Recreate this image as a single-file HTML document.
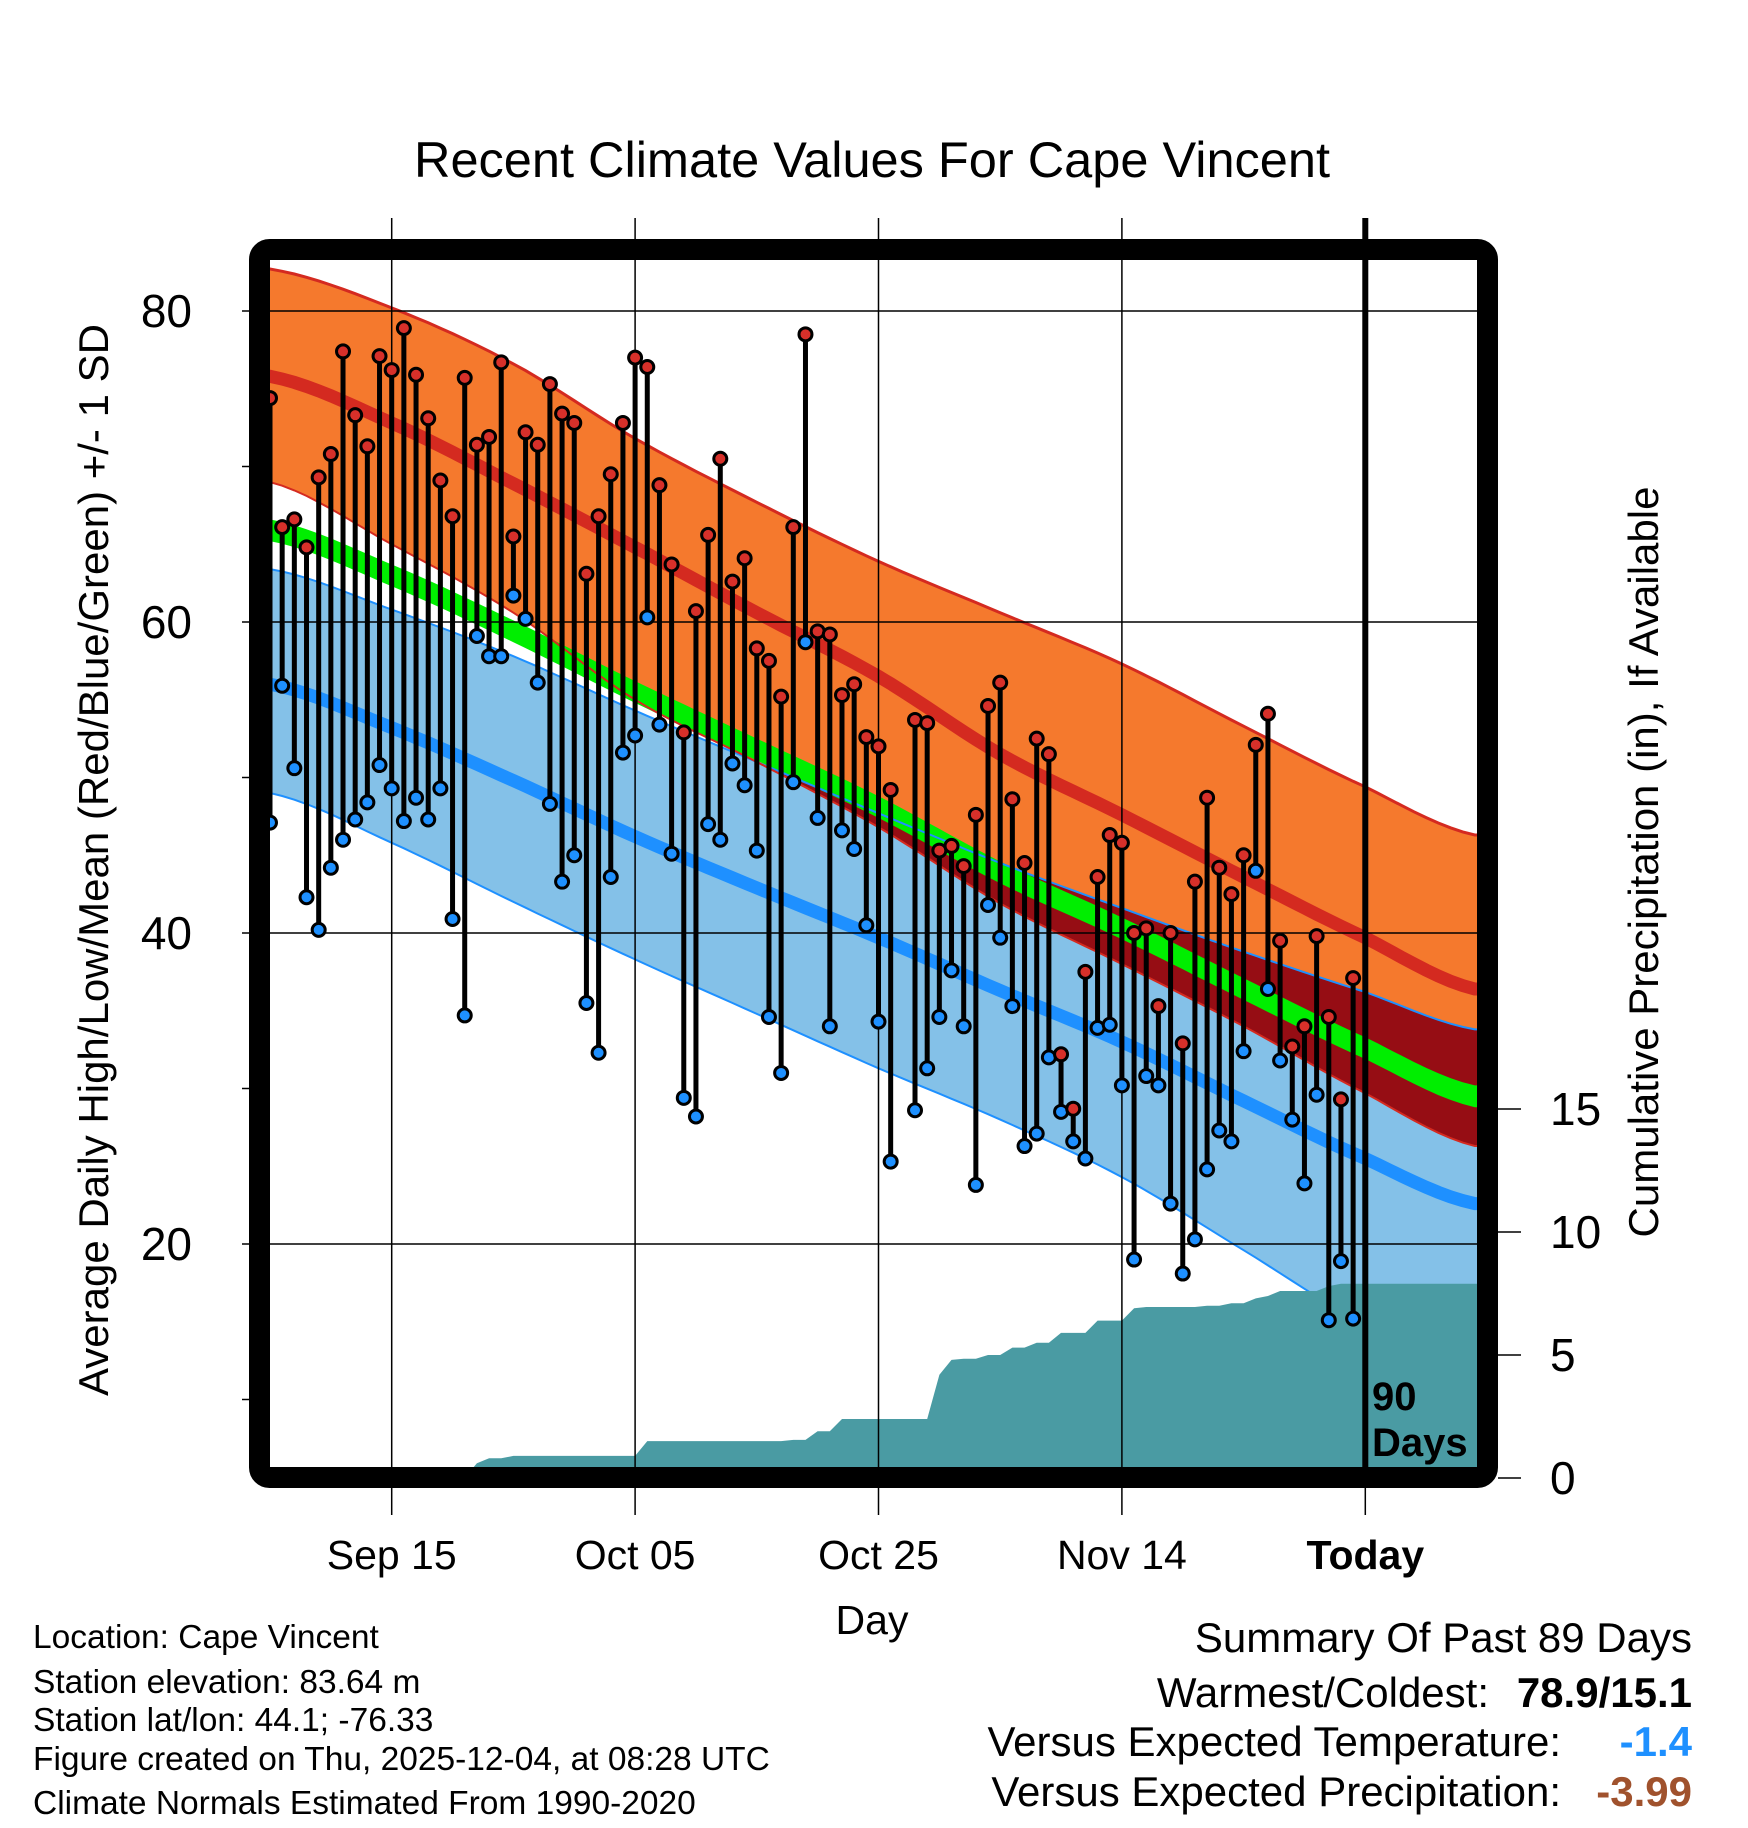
<!DOCTYPE html>
<html><head><meta charset="utf-8"><style>
html,body{margin:0;padding:0;background:#fff;}
svg{display:block;font-family:"Liberation Sans",sans-serif;}
</style></head><body>
<svg id="chart" width="1748" height="1828" viewBox="0 0 1748 1828" xmlns="http://www.w3.org/2000/svg">
<defs><clipPath id="plotclip"><rect x="270" y="260" width="1207" height="1207"/></clipPath></defs>
<g id="bands" clip-path="url(#plotclip)"></g>
<g id="grid"></g>
<g id="marks" clip-path="url(#plotclip)"></g>
<rect x="259.5" y="249.5" width="1228" height="1228" rx="10" fill="none" stroke="#000" stroke-width="21"/>
<g id="axes"></g>
<text x="872" y="177" font-size="50.5" text-anchor="middle">Recent Climate Values For Cape Vincent</text>
<text x="872" y="1634" font-size="41" text-anchor="middle">Day</text>
<text transform="translate(108,860) rotate(-90)" font-size="42" text-anchor="middle">Average Daily High/Low/Mean (Red/Blue/Green) +/- 1 SD</text>
<text transform="translate(1658,862) rotate(-90)" font-size="42" text-anchor="middle">Cumulative Precipitation (in), If Available</text>
<text x="1372" y="1410" font-size="40" font-weight="bold">90</text>
<text x="1372" y="1456" font-size="40" font-weight="bold">Days</text>
<g font-size="33.5">
<text x="33" y="1648">Location: Cape Vincent</text>
<text x="33" y="1693">Station elevation: 83.64 m</text>
<text x="33" y="1731">Station lat/lon: 44.1; -76.33</text>
<text x="33" y="1770">Figure created on Thu, 2025-12-04, at 08:28 UTC</text>
<text x="33" y="1814">Climate Normals Estimated From 1990-2020</text>
</g>
<g font-size="42" text-anchor="end">
<text x="1692" y="1652">Summary Of Past 89 Days</text>
<text x="1489" y="1707">Warmest/Coldest:</text>
<text x="1692" y="1707" font-weight="bold">78.9/15.1</text>
<text x="1561" y="1756">Versus Expected Temperature:</text>
<text x="1692" y="1756" font-weight="bold" fill="#1e90ff">-1.4</text>
<text x="1561" y="1806">Versus Expected Precipitation:</text>
<text x="1692" y="1806" font-weight="bold" fill="#a0522d">-3.99</text>
</g>
</svg>
<script>
const normDays = [0,10,20,30,40,50,60,70,80,90,99];
const hiUpper = [82.7,80.2,76.6,71.8,67.7,63.9,60.6,57.3,53.3,49.4,46.3];
const hiMean  = [75.8,72.8,68.9,64.8,60.6,56.5,51.5,47.6,43.6,39.7,36.4];
const hiLower = [69.0,65.0,60.6,55.0,51.0,46.8,41.9,38.0,34.0,29.7,26.3];
const avgMean = [65.9,63.0,59.4,55.5,51.8,48.1,43.9,40.3,36.4,32.6,29.5];
const loUpper = [63.4,60.8,57.8,54.3,51.0,47.7,44.5,41.6,38.8,36.2,33.8];
const loMean  = [56.0,53.2,49.8,46.2,42.9,39.7,36.3,33.0,29.2,25.5,22.6];
const loLower = [49.0,45.8,42.0,38.3,34.8,31.3,28.0,24.3,19.6,14.8,11.4];
const highs = [74.4,66.1,66.6,64.8,69.3,70.8,77.4,73.3,71.3,77.1,76.2,78.9,75.9,73.1,69.1,66.8,75.7,71.4,71.9,76.7,65.5,72.2,71.4,75.3,73.4,72.8,63.1,66.8,69.5,72.8,77.0,76.4,68.8,63.7,52.9,60.7,65.6,70.5,62.6,64.1,58.3,57.5,55.2,66.1,78.5,59.4,59.2,55.3,56.0,52.6,52.0,49.2,null,53.7,53.5,45.3,45.6,44.3,47.6,54.6,56.1,48.6,44.5,52.5,51.5,32.2,28.7,37.5,43.6,46.3,45.8,40.0,40.3,35.3,40.0,32.9,43.3,48.7,44.2,42.5,45.0,52.1,54.1,39.5,32.7,34.0,39.8,34.6,29.3,37.1];
const lows  = [47.1,55.9,50.6,42.3,40.2,44.2,46.0,47.3,48.4,50.8,49.3,47.2,48.7,47.3,49.3,40.9,34.7,59.1,57.8,57.8,61.7,60.2,56.1,48.3,43.3,45.0,35.5,32.3,43.6,51.6,52.7,60.3,53.4,45.1,29.4,28.2,47.0,46.0,50.9,49.5,45.3,34.6,31.0,49.7,58.7,47.4,34.0,46.6,45.4,40.5,34.3,25.3,null,28.6,31.3,34.6,37.6,34.0,23.8,41.8,39.7,35.3,26.3,27.1,32.0,28.5,26.6,25.5,33.9,34.1,30.2,19.0,30.8,30.2,22.6,18.1,20.3,24.8,27.3,26.6,32.4,44.0,36.4,31.8,28.0,23.9,29.6,15.1,18.9,15.2];
const precip = [0,0,0,0,0,0,0,0,0,0,0,0,0,0,0,0,0,0.6,0.8,0.8,0.9,0.9,0.9,0.9,0.9,0.9,0.9,0.9,0.9,0.9,0.9,1.5,1.5,1.5,1.5,1.5,1.5,1.5,1.5,1.5,1.5,1.5,1.5,1.55,1.55,1.9,1.9,2.4,2.4,2.4,2.4,2.4,2.4,2.4,2.4,4.2,4.8,4.85,4.85,5.0,5.0,5.3,5.3,5.5,5.5,5.9,5.9,5.9,6.4,6.4,6.4,6.9,6.95,6.95,6.95,6.95,6.95,7.0,7.0,7.1,7.1,7.3,7.4,7.6,7.6,7.6,7.6,7.8,7.9,7.9];
const tempTicks = [80,60,40,20];
const tempMinor = [70,50,30,10];
const precipTicks = [0,5,10,15];
const dateTickDays = [10,30,50,70,90];
const dateTickLabels = ["Sep 15","Oct 05","Oct 25","Nov 14","Today"];

const NS="http://www.w3.org/2000/svg";
const xOf = d => 270 + d*12.17;
const yT = t => 311 + (80-t)*15.55;
const yP = p => 1478 - p*24.6;
function mk(tag, attrs, parent){const e=document.createElementNS(NS,tag);for(const k in attrs)e.setAttribute(k,attrs[k]);parent.appendChild(e);return e;}
const bands=document.getElementById('bands'), grid=document.getElementById('grid'), marks=document.getElementById('marks'), axes=document.getElementById('axes');
// smooth (Catmull-Rom) interpolation of normals
function interp(arr, d){
  let i=0; while(i<normDays.length-2 && d>normDays[i+1]) i++;
  const t=(d-normDays[i])/(normDays[i+1]-normDays[i]);
  const p0=arr[Math.max(i-1,0)], p1=arr[i], p2=arr[i+1], p3=arr[Math.min(i+2,arr.length-1)];
  const t2=t*t, t3=t2*t;
  return 0.5*((2*p1)+(-p0+p2)*t+(2*p0-5*p1+4*p2-p3)*t2+(-p0+3*p1-3*p2+p3)*t3);
}
const sampleDays=[]; for(let d=-1; d<=100; d+=1) sampleDays.push(d);
function pts(arr){return sampleDays.map(d=>xOf(d).toFixed(1)+','+yT(interp(arr,Math.min(Math.max(d,0),99))).toFixed(1));}
function bandPoly(up,lo,fill,name){
  const p=pts(up).concat(pts(lo).reverse()).join(' ');
  const e=mk('polygon',{points:p,fill:fill},bands);
  
  
}
function line(arr,stroke,w,name){
  const e=mk('polyline',{points:pts(arr).join(' '),fill:'none',stroke:stroke,'stroke-width':w},bands);
  
  
}
bandPoly(loUpper,loLower,'#84c1e8','low-sd-band');
bandPoly(hiUpper,hiLower,'#f5792d','high-sd-band');
// overlap region
{
  const up=sampleDays.map(d=>{const dd=Math.min(Math.max(d,0),99);return xOf(d).toFixed(1)+','+yT(Math.max(interp(hiLower,dd),interp(loUpper,dd))).toFixed(1);});
  const lo=sampleDays.map(d=>{const dd=Math.min(Math.max(d,0),99);return xOf(d).toFixed(1)+','+yT(interp(hiLower,dd)).toFixed(1);}).reverse();
  const e=mk('polygon',{points:up.concat(lo).join(' '),fill:'#960d14'},bands);
  
  
}
const gUp=avgMean.map(v=>v+0.7), gLo=avgMean.map(v=>v-0.7);
bandPoly(gUp,gLo,'#00ee00','mean-band');
line(loUpper,'#1e90ff',2,'low-upper-edge');
line(loLower,'#1e90ff',2,'low-lower-edge');
line(hiUpper,'#d42a20',3,'high-upper-edge');
line(hiLower,'#d42a20',2,'high-lower-edge');
line(hiMean,'#d42a20',13,'mean-high-line');
line(loMean,'#1e90ff',13,'mean-low-line');
// precip area
let pp=[xOf(0)+','+1467];
precip.forEach((v,i)=>pp.push(xOf(i).toFixed(1)+','+yP(v).toFixed(1)));
pp.push('1480,'+yP(precip[precip.length-1]).toFixed(1));
pp.push('1480,1467');
const pa=mk('polygon',{points:pp.join(' '),fill:'#4a9ba3'},bands);


// grid
tempTicks.forEach(t=>{
  const e=mk('line',{x1:242,x2:1477,y1:yT(t),y2:yT(t),stroke:'#000','stroke-width':1.5},grid);
  
  
  const l=mk('text',{x:192,y:yT(t)+16,'font-size':46,'text-anchor':'end'},axes);l.textContent=t;
  
  
});
tempMinor.forEach(t=>{
  const e=mk('line',{x1:242,x2:250,y1:yT(t),y2:yT(t),stroke:'#000','stroke-width':1.5},axes);
  
  
});
dateTickDays.forEach((d,i)=>{
  const e=mk('line',{x1:xOf(d),x2:xOf(d),y1:218,y2:1515,stroke:'#000','stroke-width':1.5},grid);
  
  
  const l=mk('text',{x:xOf(d),y:1569,'font-size':41,'text-anchor':'middle','font-weight':i==4?'bold':'normal'},axes);l.textContent=dateTickLabels[i];
  
  
});
precipTicks.forEach(p=>{
  const e=mk('line',{x1:1498,x2:1521,y1:yP(p),y2:yP(p),stroke:'#000','stroke-width':1.5},axes);
  
  
  const l=mk('text',{x:1550,y:yP(p)+16,'font-size':46},axes);l.textContent=p;
  
  
});
const tl=mk('line',{x1:xOf(90),x2:xOf(90),y1:218,y2:1467,stroke:'#000','stroke-width':6},grid);


// daily marks
highs.forEach((h,i)=>{
  const l=lows[i]; if(h==null||l==null) return;
  const x=xOf(i);
  const s=mk('line',{x1:x,x2:x,y1:yT(h),y2:yT(l),stroke:'#000','stroke-width':5},marks);
  
  
  const c1=mk('circle',{cx:x,cy:yT(h),r:6.5,fill:'#d7302a',stroke:'#000','stroke-width':3},marks);
  
  
  const c2=mk('circle',{cx:x,cy:yT(l),r:6.5,fill:'#1e90ff',stroke:'#000','stroke-width':3},marks);
  
  
});
</script>
</body></html>
